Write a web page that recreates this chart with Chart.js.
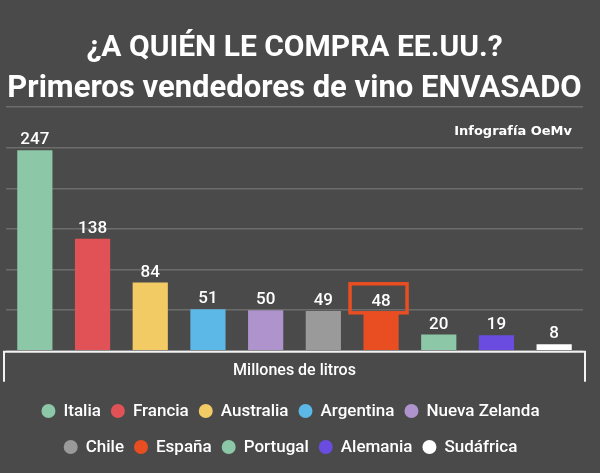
<!DOCTYPE html>
<html lang="es">
<head>
<meta charset="utf-8">
<title>Primeros vendedores de vino envasado</title>
<script src="https://cdn.jsdelivr.net/npm/chart.js@4.4.1/dist/chart.umd.min.js"></script>
<style>
    html, body { margin: 0; padding: 0; background: #4a4a4a; }
    #wrap { width: 600px; height: 473px; position: relative; }
</style>
</head>
<body>
<div id="wrap"><canvas id="wineChart"></canvas></div>
<script>
// Data (millones de litros)
const countries = ['Italia', 'Francia', 'Australia', 'Argentina', 'Nueva Zelanda', 'Chile', 'España', 'Portugal', 'Alemania', 'Sudáfrica'];
const litres = [247, 138, 84, 51, 50, 49, 48, 20, 19, 8];
const barColors = ['#8cc7a8', '#e15256', '#f2cb64', '#5cb8e6', '#ae93cd', '#9a9a9a', '#e94e22', '#8cc7a8', '#6a4de0', '#ffffff'];
const legendRows = [[0, 1, 2, 3, 4], [5, 6, 7, 8, 9]];
const highlighted = 'España';

const FONT = 'Roboto';

// value labels above the bars + red box around the highlighted one
const valueLabels = {
    id: 'valueLabels',
    afterDatasetsDraw(chart) {
        const ctx = chart.ctx;
        const meta = chart.getDatasetMeta(0);
        ctx.save();
        ctx.font = '500 17px ' + FONT;
        ctx.fillStyle = '#ffffff';
        ctx.textAlign = 'center';
        ctx.textBaseline = 'alphabetic';
        meta.data.forEach((bar, i) => {
            ctx.fillText(litres[i], bar.x, bar.y - 6);
            if (countries[i] === highlighted) {
                ctx.strokeStyle = '#e94e22';
                ctx.lineWidth = 3.5;
                ctx.strokeRect(bar.x - 31, bar.y - 28, 57, 29);
            }
        });
        ctx.restore();
    }
};

// white box under the bars and the credit text
const frame = {
    id: 'frame',
    afterDraw(chart) {
        const ctx = chart.ctx;
        const a = chart.chartArea;
        ctx.save();
        ctx.strokeStyle = '#f2f2f2';
        ctx.lineWidth = 2;
        ctx.beginPath();
        ctx.moveTo(a.left - 2, a.bottom + 31);
        ctx.lineTo(a.left - 2, a.bottom + 1);
        ctx.lineTo(a.right + 2, a.bottom + 1);
        ctx.lineTo(a.right + 2, a.bottom + 31);
        ctx.stroke();

        ctx.font = 'bold 13px "DejaVu Sans"';
        ctx.fillStyle = '#ffffff';
        ctx.textAlign = 'right';
        ctx.textBaseline = 'middle';
        ctx.fillText('Infografía OeMv', a.right - 11, 132);
        ctx.restore();
    }
};

// two-row legend with round markers
const roundLegend = {
    id: 'roundLegend',
    afterDraw(chart) {
        const ctx = chart.ctx;
        const a = chart.chartArea;
        const r = 7, gapText = 8, gapItem = 10;
        const centre = (a.left + a.right) / 2 - 4;
        ctx.save();
        ctx.font = '500 17px ' + FONT;
        ctx.textBaseline = 'middle';
        ctx.textAlign = 'left';
        legendRows.forEach((row, k) => {
            const y = 411 + k * 36;
            const widths = row.map(i => 2 * r + gapText + ctx.measureText(countries[i]).width);
            const total = widths.reduce((s, w) => s + w, 0) + gapItem * (row.length - 1);
            let x = centre - total / 2;
            row.forEach((i, j) => {
                ctx.fillStyle = barColors[i];
                ctx.beginPath();
                ctx.arc(x + r, y, r, 0, Math.PI * 2);
                ctx.fill();
                ctx.fillStyle = '#ffffff';
                ctx.fillText(countries[i], x + 2 * r + gapText, y + 1);
                x += widths[j] + gapItem;
            });
        });
        ctx.restore();
    }
};

const ctx = document.getElementById('wineChart').getContext('2d');
const wineChart = new Chart(ctx, {
    type: 'bar',
    data: {
        labels: countries,
        datasets: [{
            label: 'Millones de litros',
            data: litres,
            backgroundColor: barColors,
            barPercentage: 0.61,
            categoryPercentage: 1
        }]
    },
    options: {
        responsive: true,
        maintainAspectRatio: false,
        animation: false,
        layout: { padding: { left: 6, right: 17, top: 0, bottom: 85 } },
        plugins: {
            legend: { display: false },
            tooltip: { enabled: false },
            title: {
                display: true,
                text: '¿A QUIÉN LE COMPRA EE.UU.?',
                color: '#ffffff',
                font: { family: FONT, size: 30, weight: 'bold', lineHeight: 1.1 },
                padding: { top: 32, bottom: 0 }
            },
            subtitle: {
                display: true,
                text: 'Primeros vendedores de vino ENVASADO',
                color: '#ffffff',
                font: { family: FONT, size: 31, weight: 'bold', lineHeight: 1.1 },
                padding: { top: 7, bottom: 1 }
            }
        },
        scales: {
            x: {
                grid: { display: false },
                border: { display: false },
                ticks: { display: false },
                title: {
                    display: true,
                    text: 'Millones de litros',
                    color: '#ffffff',
                    font: { family: FONT, size: 16, weight: '500' },
                    padding: { top: 3, bottom: 7 }
                }
            },
            y: {
                min: 0,
                max: 300,
                ticks: { display: false, stepSize: 50 },
                border: { display: false },
                grid: { color: '#6c6c6c', lineWidth: 1.5, drawTicks: false }
            }
        }
    },
    plugins: [valueLabels, frame, roundLegend]
});
</script>
</body>
</html>
